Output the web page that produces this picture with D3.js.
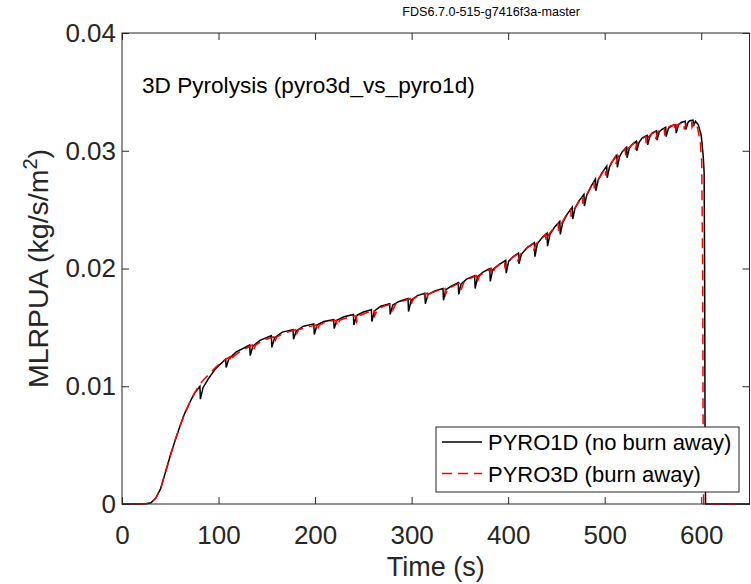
<!DOCTYPE html>
<html>
<head>
<meta charset="utf-8">
<script src="https://cdn.jsdelivr.net/npm/d3@7"></script>
<style>
body { margin: 0; background: #fff; }
text { font-family: "Liberation Sans", Arial, sans-serif; fill: #262626; }
</style>
</head>
<body>
<script>
var xTicks = [0, 100, 200, 300, 400, 500, 600];
var yTicks = [0, 0.01, 0.02, 0.03, 0.04];
var seriesNames = ["PYRO1D (no burn away)", "PYRO3D (burn away)"];

// PYRO1D (no burn away) - time (s), MLRPUA (kg/s/m2)
var pyro1d = [
  [0,0],[20,0],[25,0.00003],[30,0.0001],[35,0.0005],[40,0.0013],[45,0.0027],[50,0.0041],[55,0.0054],[60,0.0066],[65,0.0077],[70,0.0086],[75,0.0094],
  [80.7,0.0100],[81.2,0.0089],[84,0.0099],[90,0.0107],[97,0.0115],
  [107.4,0.0123],[107.9,0.0116],[110.5,0.0123],[118,0.0129],
  [132.3,0.0135],[132.8,0.0126],[135.5,0.0134],[143,0.0139],
  [154.7,0.0143],[155.2,0.0133],[158,0.0141],[166,0.0146],
  [177.2,0.0148],[177.7,0.0140],[180.5,0.0147],[188,0.0151],
  [198.7,0.0153],[199.2,0.0144],[202,0.0152],[209,0.0155],
  [219.3,0.01565],[219.8,0.0149],[222.5,0.0156],[230,0.0159],
  [239.7,0.0161],[240.2,0.0152],[243,0.0160],[250,0.0163],
  [258.3,0.0165],[258.8,0.0155],[261.5,0.0164],[268,0.0168],
  [277.3,0.0170],[277.8,0.0161],[280.5,0.0169],[287,0.0172],
  [296.3,0.01745],[296.8,0.01635],[299.5,0.0173],[306,0.0177],
  [313.7,0.0179],[314.2,0.0170],[317,0.0178],[324,0.0181],
  [332.5,0.0183],[333,0.0173],[335.5,0.0182],[341,0.0185],
  [348.3,0.0188],[348.8,0.0178],[351.3,0.0187],[357,0.0191],
  [365.3,0.0194],[365.8,0.0183],[368.3,0.0193],[374,0.0197],
  [381,0.0200],[381.5,0.0189],[384,0.0199],[390,0.0203],
  [397.5,0.0207],[398,0.0196],[400.5,0.0206],[405,0.0210],
  [410.7,0.0213],[411.2,0.0204],[413.7,0.0212],[420,0.0218],
  [427.2,0.0222],[427.7,0.0210],[430.2,0.0221],[435,0.0226],
  [440.3,0.0230],[440.8,0.0219],[443.3,0.0229],[448,0.0235],
  [453.5,0.0240],[454,0.0229],[456.5,0.0239],[461,0.0246],
  [466.4,0.0252],[466.9,0.0242],[469.2,0.0251],[473,0.0257],
  [478.5,0.0263],[479,0.0253],[481.3,0.0262],[486,0.0270],
  [490.4,0.0276],[490.9,0.0266],[493.2,0.0275],[497,0.0281],
  [502.1,0.0287],[502.6,0.0277],[504.9,0.0286],[508,0.0291],
  [512.6,0.0296],[513.1,0.0286],[515.4,0.0295],[518,0.0299],
  [522.7,0.0303],[523.2,0.0294],[525.5,0.0302],[528,0.0305],
  [532.7,0.0308],[533.2,0.0300],[535.5,0.0307],[539,0.0311],
  [544,0.0313],[544.5,0.0305],[546.8,0.0312],[549,0.0315],
  [553.7,0.0317],[554.2,0.0309],[556.5,0.0316],[559,0.0318],
  [563.2,0.0320],[563.7,0.0312],[566,0.0319],[569,0.0321],
  [573.6,0.0322],[574.1,0.0315],[576.4,0.0322],[579,0.0324],
  [583.5,0.0325],[584,0.0318],[586.3,0.0324],[588,0.03255],
  [591.5,0.0326],[592,0.0321],[594,0.0325],
  [597,0.0322],[600,0.0313],[602,0.0296],[603,0.0282],[603.5,0.0200],[604,0.0050],[604.5,0],[650,0]
];

// PYRO3D (burn away)
var pyro3d = [
  [0,0],[20,0],[25,0.00003],[30,0.0001],[35,0.0005],[40,0.0013],[45,0.0027],[50,0.0041],[55,0.0054],[60,0.0066],[65,0.0077],[70,0.0086],[75,0.0094],
  [80,0.0101],[85,0.0106],[90,0.0110],[97,0.0116],[104,0.0121],
  [111.7,0.0125],[112.2,0.0121],[115,0.0125],[123,0.0130],
  [135.2,0.0135],[135.7,0.0130],[138.5,0.0135],[146,0.0139],
  [157.2,0.0142],[157.7,0.0137],[160.5,0.0142],[168,0.0145],
  [179.7,0.0148],[180.2,0.0143],[183,0.0148],[190,0.0150],
  [201.2,0.0152],[201.7,0.0147],[204.5,0.0152],[212,0.0155],
  [222.2,0.0156],[222.7,0.0151],[225.5,0.0156],[232,0.0158],
  [242.7,0.0160],[243.2,0.0155],[246,0.0160],[252,0.0162],
  [261.2,0.0165],[261.7,0.0160],[264.5,0.0165],[271,0.0168],
  [280.2,0.0170],[280.7,0.0165],[283.5,0.0170],[290,0.0172],
  [298.7,0.01745],[299.2,0.0169],[302,0.01745],[308,0.0177],
  [316.2,0.0179],[316.7,0.0174],[319.5,0.0179],[326,0.0181],
  [334.7,0.0183],[335.2,0.0178],[338,0.0183],[343,0.0185],
  [350.7,0.0188],[351.2,0.0182],[354,0.0188],[359,0.0191],
  [367.2,0.0194],[367.7,0.0188],[370.5,0.0194],[376,0.0197],
  [382.7,0.0200],[383.2,0.0194],[386,0.0200],[392,0.0204],
  [396.2,0.0206],[396.7,0.0200],[399.5,0.0206],[404,0.0209],
  [409.2,0.0212],[409.7,0.0206],[412.5,0.0212],[419,0.0217],
  [425.7,0.0221],[426.2,0.0215],[429,0.0221],[434,0.0225],
  [438.7,0.0229],[439.2,0.0223],[442,0.0229],[447,0.0234],
  [451.7,0.0238],[452.2,0.0232],[455,0.0238],[460,0.0245],
  [464.7,0.0250],[465.2,0.0244],[468,0.0250],[472,0.0255],
  [476.7,0.0261],[477.2,0.0255],[480,0.0261],[485,0.0268],
  [488.7,0.0274],[489.2,0.0268],[492,0.0274],[496,0.0279],
  [500.5,0.0285],[501,0.0279],[503.5,0.0285],[507,0.0290],
  [511,0.0295],[511.5,0.0289],[514,0.0295],[517,0.0298],
  [521.2,0.0302],[521.7,0.0296],[524,0.0302],[527,0.0304],
  [531.2,0.0307],[531.7,0.0301],[534,0.0307],[538,0.0310],
  [542.5,0.0312],[543,0.0306],[545.5,0.0312],[548,0.0314],
  [552.2,0.0316],[552.7,0.0310],[555,0.0316],[558,0.0318],
  [561.7,0.0319],[562.2,0.0313],[564.5,0.0319],[568,0.0321],
  [572.1,0.0322],[572.6,0.0316],[575,0.0322],[578,0.0323],
  [582,0.0324],[582.5,0.0318],[585,0.0324],[587,0.0325],
  [590,0.0325],[590.5,0.0320],[593,0.0324],
  [596,0.0320],[599,0.0308],[600.5,0.0290],[601.5,0.0200],[602,0.0050],[602.5,0],[650,0]
];

var L = 122, R = 749.5, T = 33, B = 504;
var svg = d3.select("body").append("svg").attr("width", 751).attr("height", 584);

var x = d3.scaleLinear().domain([0, 650]).range([L, R]);
var y = d3.scaleLinear().domain([0, 0.04]).range([B, T]);

var linea = d3.line().x(function (d) { return x(d[0]); }).y(function (d) { return y(d[1]); });

svg.append("path").datum(pyro1d).attr("d", linea)
  .attr("fill", "none").attr("stroke", "#000").attr("stroke-width", 1.5);
svg.append("path").datum(pyro3d).attr("d", linea)
  .attr("fill", "none").attr("stroke", "#ff0000").attr("stroke-width", 1.5)
  .attr("stroke-dasharray", "10,6");

// ejes con marcas hacia dentro
function estiloEje(g) {
  g.select(".domain").remove();
  g.selectAll(".tick line").attr("stroke", "#262626");
  g.selectAll(".tick text").attr("fill", "#262626").style("font-family", "Liberation Sans, Arial, sans-serif");
}
var ejeX = svg.append("g").attr("transform", "translate(0," + B + ")")
  .call(d3.axisBottom(x).tickValues(xTicks).tickSizeInner(-7).tickSizeOuter(0).tickPadding(22).tickFormat(d3.format("d")));
ejeX.call(estiloEje).selectAll(".tick text").style("font-size", "26px");
var ejeXtop = svg.append("g").attr("transform", "translate(0," + T + ")")
  .call(d3.axisTop(x).tickValues(xTicks).tickSizeInner(-7).tickSizeOuter(0).tickFormat(""));
ejeXtop.call(estiloEje);

var ejeY = svg.append("g").attr("transform", "translate(" + L + ",0)")
  .call(d3.axisLeft(y).tickValues(yTicks).tickSizeInner(-7).tickSizeOuter(0).tickPadding(6).tickFormat(function (d) { return d === 0 ? "0" : d3.format(".2f")(d); }));
ejeY.call(estiloEje).selectAll(".tick text").style("font-size", "26px");
var ejeYright = svg.append("g").attr("transform", "translate(" + R + ",0)")
  .call(d3.axisRight(y).tickValues(yTicks).tickSizeInner(-7).tickSizeOuter(0).tickFormat(""));
ejeYright.call(estiloEje);

svg.append("rect").attr("x", L).attr("y", T).attr("width", R - L).attr("height", B - T)
  .attr("fill", "none").attr("stroke", "#262626").attr("stroke-width", 1);

// textos
svg.append("text").attr("x", 580).attr("y", 16).attr("text-anchor", "end")
  .style("font-size", "12.6px").style("fill", "#000").text("FDS6.7.0-515-g7416f3a-master");
svg.append("text").attr("x", 142).attr("y", 93)
  .style("font-size", "22.6px").style("fill", "#000").text("3D Pyrolysis (pyro3d_vs_pyro1d)");
svg.append("text").attr("x", (L + R) / 2).attr("y", 576).attr("text-anchor", "middle")
  .style("font-size", "27px").text("Time (s)");
var etiquetaY = svg.append("text").attr("transform", "translate(48," + ((T + B) / 2) + ") rotate(-90)")
  .attr("text-anchor", "middle").style("font-size", "28.5px");
etiquetaY.append("tspan").text("MLRPUA (kg/s/m");
etiquetaY.append("tspan").attr("dy", -11).style("font-size", "20px").text("2");
etiquetaY.append("tspan").attr("dy", 11).text(")");

// leyenda
var leyenda = svg.append("g");
leyenda.append("rect").attr("x", 436).attr("y", 427).attr("width", 303).attr("height", 65)
  .attr("fill", "#fff").attr("stroke", "#262626").attr("stroke-width", 1);
var estilos = [{ color: "#000", dash: null }, { color: "#ff0000", dash: "10,6" }];
seriesNames.forEach(function (nombre, i) {
  var cy = 442 + i * 31.5;
  leyenda.append("line").attr("x1", 442).attr("x2", 482).attr("y1", cy).attr("y2", cy)
    .attr("stroke", estilos[i].color).attr("stroke-width", 1.5).attr("stroke-dasharray", estilos[i].dash);
  leyenda.append("text").attr("x", 488).attr("y", cy + 8).style("font-size", "22px").style("fill", "#000").text(nombre);
});
</script>
</body>
</html>
